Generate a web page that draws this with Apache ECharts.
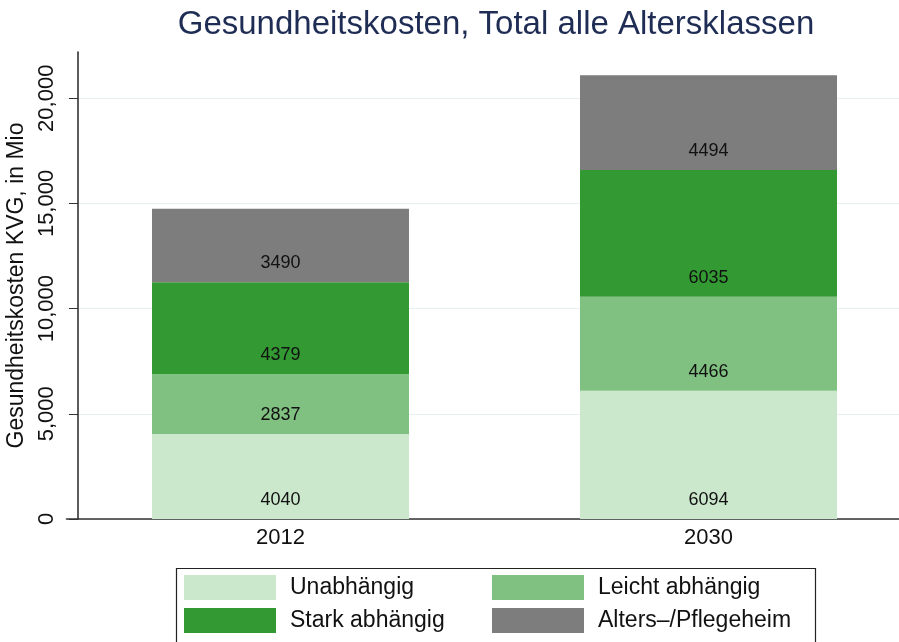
<!DOCTYPE html>
<html>
<head>
<meta charset="utf-8">
<script src="https://cdn.jsdelivr.net/npm/echarts@6/dist/echarts.min.js"></script>
<style>
	html, body { margin: 0; padding: 0; background: #fff; }
	#main { width: 899px; height: 642px; }
</style>
</head>
<body>
<div id="main"></div>
<script>
var years = ['2012', '2030'];
var unabhaengig = [4040, 6094];
var leicht = [2837, 4466];
var stark = [4379, 6035];
var heim = [3490, 4494];
var yTicks = [0, 5000, 10000, 15000, 20000];

var FONT = '"Liberation Sans", Arial, sans-serif';

function barSeries(name, data, color) {
	return {
		name: name,
		type: 'bar',
		stack: 'total',
		barWidth: 257,
		data: data,
		itemStyle: { color: color },
		label: {
			show: true,
			position: 'insideBottom',
			distance: 10,
			color: '#111',
			fontFamily: FONT,
			fontSize: 18
		}
	};
}

// one legend per column so the two columns line up like the original
function legendCol(items, left) {
	return {
		data: items,
		orient: 'vertical',
		left: left,
		top: 575,
		padding: 0,
		itemWidth: 92,
		itemHeight: 25,
		itemGap: 8,
		icon: 'rect',
		textStyle: { fontFamily: FONT, fontSize: 23, color: '#111', padding: [0, 0, 0, 9] }
	};
}

var chart = echarts.init(document.getElementById('main'));
var option = {
	animation: false,
	backgroundColor: '#fff',
	title: {
		text: 'Gesundheitskosten, Total alle Altersklassen',
		left: 491,
		top: 3,
		textAlign: 'center',
		textStyle: { fontFamily: FONT, fontSize: 33, fontWeight: 'normal', color: '#1f2d55' }
	},
	grid: { left: 66.5, right: -23.5, top: 52, bottom: 123, containLabel: false, outerBoundsMode: 'none' },
	legend: [
		legendCol(['Unabhängig', 'Stark abhängig'], 184),
		legendCol(['Leicht abhängig', 'Alters–/Pflegeheim'], 492)
	],
	graphic: [{
		type: 'rect',
		left: 174,
		top: 566,
		shape: { width: 639, height: 80 },
		style: { fill: 'none', stroke: '#222', lineWidth: 1.2 },
		z: 0
	}],
	xAxis: {
		type: 'category',
		data: years,
		axisLine: { lineStyle: { color: '#333', width: 1.6 } },
		axisTick: { show: false },
		axisLabel: { fontFamily: FONT, fontSize: 22, color: '#111', margin: 8 }
	},
	yAxis: {
		type: 'value',
		min: 0,
		max: 22200,
		offset: -11.5,
		name: 'Gesundheitskosten KVG, in Mio',
		nameLocation: 'middle',
		nameGap: 40,
		nameTextStyle: { fontFamily: FONT, fontSize: 23, color: '#111' },
		axisLine: { show: true, lineStyle: { color: '#333', width: 1.6 } },
		axisTick: { show: true, length: 9, customValues: yTicks, lineStyle: { color: '#333' } },
		axisLabel: {
			customValues: yTicks,
			rotate: 90,
			margin: 20,
			fontFamily: FONT,
			fontSize: 22,
			color: '#111',
			formatter: function(v) { return v.toLocaleString('en-US'); }
		},
		splitLine: { show: true, lineStyle: { color: '#e6f0f0', width: 1 } }
	},
	series: [
		barSeries('Unabhängig', unabhaengig, '#cce8cc'),
		barSeries('Leicht abhängig', leicht, '#80c080'),
		barSeries('Stark abhängig', stark, '#339933'),
		barSeries('Alters–/Pflegeheim', heim, '#7d7d7d')
	]
};
chart.setOption(option);
</script>
</body>
</html>
